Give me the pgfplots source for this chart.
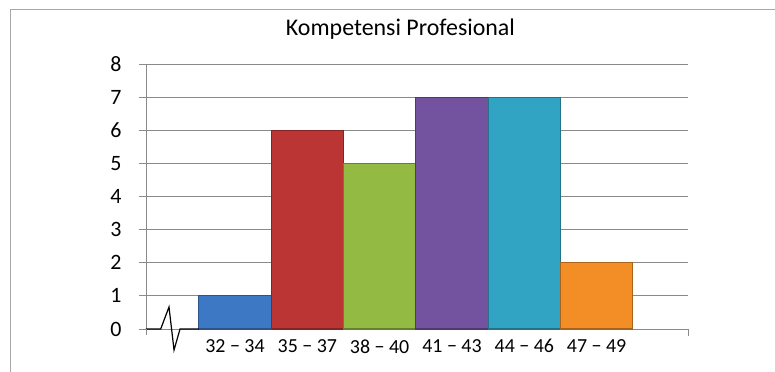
\documentclass[border=0pt]{standalone}
\usepackage{pgfplots}
\pgfplotsset{compat=1.18}
\usepackage{fontspec}
\setmainfont{Carlito}
\definecolor{cblue}{HTML}{3D78C4}
\definecolor{cred}{HTML}{BB3535}
\definecolor{cgreen}{HTML}{93BA42}
\definecolor{cpurple}{HTML}{7352A0}
\definecolor{cteal}{HTML}{31A3C3}
\definecolor{corange}{HTML}{F28E25}
\definecolor{axgray}{HTML}{8A8A8A}
\definecolor{framegray}{HTML}{A8A8A8}
\begin{document}
\begin{tikzpicture}
\path[use as bounding box] (-146bp,-43bp) rectangle (629bp,329bp);
\fill[white] (-146bp,-43bp) rectangle (629bp,329bp);
\draw[framegray, line width=1bp] (-135bp,-43bp) -- (-135bp,319bp) -- (629bp,319bp);
\begin{axis}[
  at={(0,0)}, anchor=south west, scale only axis,
  width=542bp, height=265bp,
  xmin=-0.2305, xmax=7.263, ymin=0, ymax=8,
  axis x line=bottom, axis y line=left,
  axis line style={-, draw=axgray, line width=0.9bp},
  ytick={0,1,...,8}, ymajorgrids,
  grid style={draw=axgray, line width=0.9bp},
  xtick={1,...,6},
  xticklabels={32 − 34, 35 − 37, 38 − 40, 41 − 43, 44 − 46, 47 − 49},
  xtick style={draw=none},
  tick align=outside, major tick length=7bp,
  ytick style={draw=axgray, line width=0.9bp},
  /pgf/number format/assume math mode=true,
  yticklabel style={font=\fontsize{22}{24}\selectfont, xshift=-14bp},
  xticklabel style={font=\fontsize{20}{22}\selectfont, yshift=0bp},
  title={Kompetensi Profesional},
  title style={at={(0.4695,1)}, anchor=base, yshift=23bp, font=\fontsize{24}{28}\selectfont},
  clip=false,
]
\addplot[ybar, bar width=1, bar shift=0pt, fill=cblue, draw=cblue!70!black, line width=1.2bp] coordinates {(1,1)};
\addplot[ybar, bar width=1, bar shift=0pt, fill=cred, draw=cred!70!black, line width=1.2bp] coordinates {(2,6)};
\addplot[ybar, bar width=1, bar shift=0pt, fill=cgreen, draw=cgreen!70!black, line width=1.2bp] coordinates {(3,5)};
\addplot[ybar, bar width=1, bar shift=0pt, fill=cpurple, draw=cpurple!70!black, line width=1.2bp] coordinates {(4,7)};
\addplot[ybar, bar width=1, bar shift=0pt, fill=cteal, draw=cteal!70!black, line width=1.2bp] coordinates {(5,7)};
\addplot[ybar, bar width=1, bar shift=0pt, fill=corange, draw=corange!70!black, line width=1.2bp] coordinates {(6,2)};
\addplot[black, line width=1.2bp, mark=none] coordinates {(-0.2305,0) (-0.027,0) (0.0875,0.665) (0.157,-0.634) (0.24,0) (0.502,0)};
\draw[axgray, line width=0.9bp] (axis cs:7.263,0) -- ([yshift=-7bp]axis cs:7.263,0);
\draw[axgray, line width=0.9bp] (axis cs:-0.2305,0) -- ([yshift=-6bp]axis cs:-0.2305,0);
\end{axis}
\end{tikzpicture}
\end{document}
